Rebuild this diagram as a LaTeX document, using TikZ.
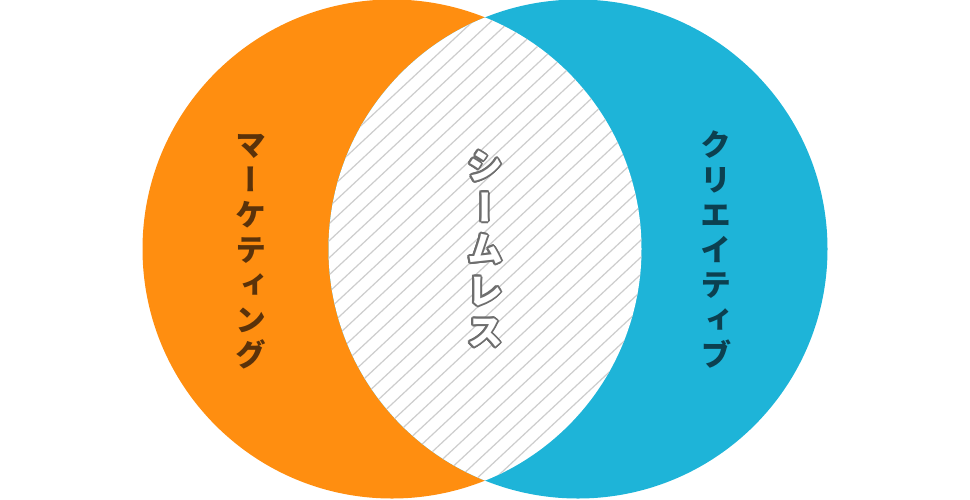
\documentclass[tikz,border=0pt]{standalone}
\usepackage{fontspec}
\newfontfamily\jpfont[RawFeature=+vert]{Noto Sans CJK JP}
\definecolor{color_venn_marketing}{HTML}{FF8E10}
\definecolor{color_venn_creative}{HTML}{1EB4D8}
\definecolor{color_venn_marketing_text}{HTML}{5A320A}
\definecolor{color_venn_creative_text}{HTML}{0C4050}
\definecolor{color_venn_hatch}{HTML}{CDCDCD}
\definecolor{color_venn_outline}{HTML}{6E6E6E}
\def\vennradius{249.5}
\def\vennhatchstep{18.3}

\begin{document}
\begin{tikzpicture}[x=1pt,y=-1pt,
    vtext/.style={font=\jpfont\bfseries\fontsize{31}{35}\selectfont, align=center, inner sep=0pt},
    vtextbig/.style={font=\jpfont\bfseries\fontsize{36}{41.5}\selectfont, align=center, inner sep=0pt}]
    \useasboundingbox (0,0) rectangle (970,499);
    \fill[color_venn_marketing] (392,249) circle (\vennradius);
    \fill[color_venn_creative] (578,249) circle (\vennradius);
    % the lens where both circles meet
    \begin{scope}
        \clip (392,249) circle (\vennradius);
        \clip (578,249) circle (\vennradius);
        \fill[white] (320,0) rectangle (650,499);
        \foreach \i in {-30,...,30}
            \draw[color_venn_hatch, line width=1.2pt] (485+\vennhatchstep*\i,249) ++(137:400) -- ++(-43:800);
    \end{scope}
    % labels
    \node[vtext, text=color_venn_marketing_text] (marketing) at (251,252) {マ\\ー\\ケ\\テ\\ィ\\ン\\グ};
    \node[vtext, text=color_venn_creative_text] (creative) at (716,250) {ク\\リ\\エ\\イ\\テ\\ィ\\ブ};
    % outlined label: grey copies round a white one
    \foreach \a in {0,22.5,...,337.5}
        \node[vtextbig, text=color_venn_outline, shift={(\a:2)}] (seamless\a) at (485,249) {シ\\ー\\ム\\レ\\ス};
    \node[vtextbig, text=white] (seamless) at (485,249) {シ\\ー\\ム\\レ\\ス};
\end{tikzpicture}
\end{document}
